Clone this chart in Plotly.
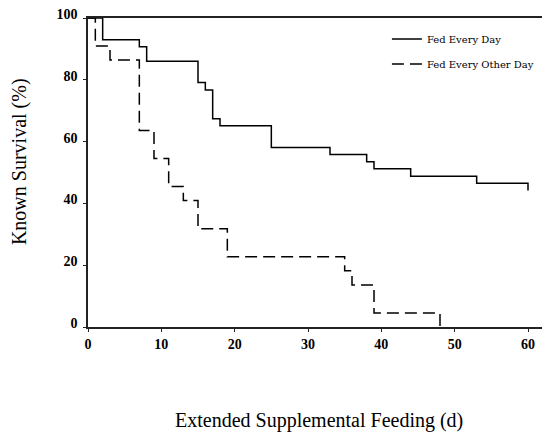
import plotly.graph_objects as go

# Fed Every Day (solid)
days_daily = [0, 2, 7, 8, 15, 16, 17, 18, 25, 33, 38, 39, 44, 53, 60, 60]
surv_daily = [100, 93.0, 90.7, 86.0, 79.1, 76.7, 67.4, 65.1, 58.1, 55.8, 53.5, 51.2, 48.8, 46.5, 46.5, 44.2]

# Fed Every Other Day (dashed)
days_other = [0, 1, 3, 7, 9, 11, 13, 15, 19, 35, 36, 39, 48, 48]
surv_other = [100, 90.9, 86.4, 63.6, 54.5, 45.5, 40.9, 31.8, 22.7, 18.2, 13.6, 4.5, 4.5, 0]

x_ticks = [0, 10, 20, 30, 40, 50, 60]
y_ticks = [0, 20, 40, 60, 80, 100]

serif = "Liberation Serif, Times New Roman, serif"
legend_font = "DejaVu Serif, serif"

fig = go.Figure()
fig.add_trace(go.Scatter(x=days_daily, y=surv_daily, mode="lines", line_shape="hv",
                         line=dict(color="black", width=1.5), name="Fed Every Day",
                         legendgroup="a"))
fig.add_trace(go.Scatter(x=days_other, y=surv_other, mode="lines", line_shape="hv",
                         line=dict(color="black", width=1.5, dash="12px,6px"),
                         name="Fed Every Other Day", legendgroup="b"))

fig.update_layout(
    width=542, height=427,
    margin=dict(l=80, r=0, t=10, b=108),
    plot_bgcolor="white", paper_bgcolor="white",
    showlegend=True,
    legend=dict(x=0.647, y=0.979, xanchor="left", yanchor="top",
                font=dict(family=legend_font, size=10, color="black"),
                bgcolor="rgba(0,0,0,0)", itemwidth=30, tracegroupgap=6),
    xaxis=dict(range=[0, 63], tickvals=x_ticks, showgrid=False, zeroline=False,
               showline=True, linecolor="#222", linewidth=1.5, mirror=True,
               ticks="outside", ticklen=3, tickcolor="#222",
               tickfont=dict(family=serif, size=14, color="black", weight="bold")),
    yaxis=dict(range=[0, 100], tickvals=y_ticks, showgrid=False, zeroline=False,
               showline=True, linecolor="#222", linewidth=1.5,
               ticks="outside", ticklen=3, tickcolor="#222",
               ticklabelshift=-4, ticklabelstandoff=3, ticklabeloverflow="allow",
               tickfont=dict(family=serif, size=14, color="black", weight="bold")),
    annotations=[
        dict(text="Extended Supplemental Feeding (d)", xref="paper", yref="paper",
             x=0.499, y=-0.304, xanchor="center", yanchor="middle", showarrow=False,
             font=dict(family=serif, size=20, color="black")),
        dict(text="Known Survival (%)", xref="paper", yref="paper",
             x=-0.147, y=0.534, xanchor="center", yanchor="middle", showarrow=False,
             textangle=-90, font=dict(family=serif, size=20, color="black")),
    ],
)

fig.write_html("out.html")
